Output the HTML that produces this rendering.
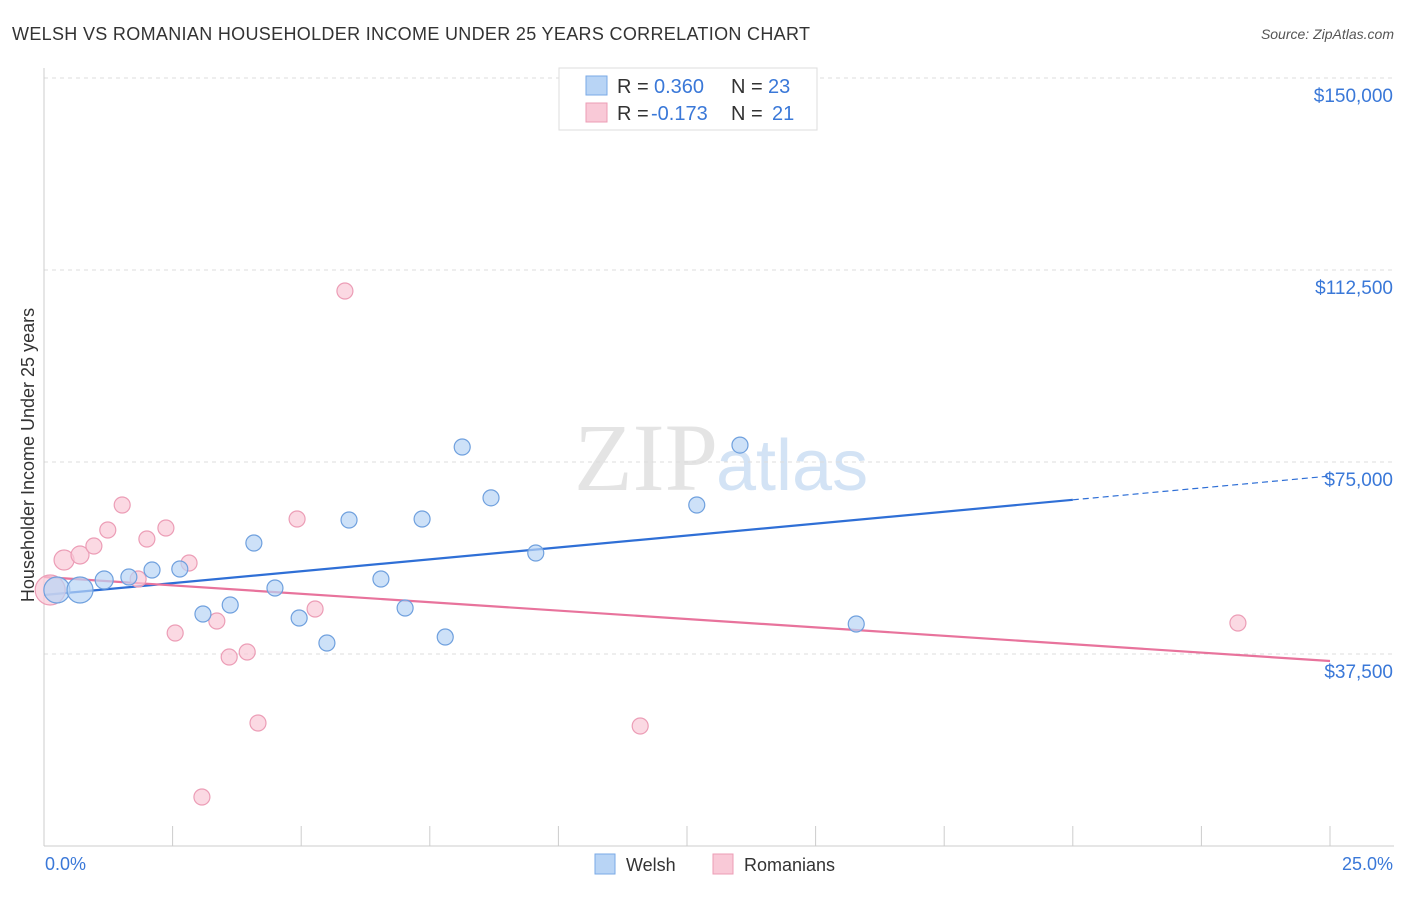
<!DOCTYPE html>
<html><head><meta charset="utf-8"><style>
body{margin:0;background:#fff;font-family:"Liberation Sans",sans-serif;}
</style></head><body>
<svg id="c" width="1406" height="892" xmlns="http://www.w3.org/2000/svg">
<text x="12" y="40" font-size="18" fill="#333" textLength="798">WELSH VS ROMANIAN HOUSEHOLDER INCOME UNDER 25 YEARS CORRELATION CHART</text>
<text x="1394" y="39" font-size="14" fill="#555" font-style="italic" text-anchor="end">Source: ZipAtlas.com</text>
<text x="718" y="490" font-size="96" fill="#e4e4e4" font-family="Liberation Serif,serif" text-anchor="end">ZIP</text>
<text x="716" y="490" font-size="72" fill="#d3e3f5">atlas</text>
<text transform="translate(34,455) rotate(-90)" font-size="18" fill="#333" text-anchor="middle">Householder Income Under 25 years</text>
<g id="grid"></g><g id="lines"></g><g id="pts"></g>
<rect x="559" y="68" width="258" height="62" fill="#fff" stroke="#ddd"/>
<rect x="586" y="76" width="21" height="19" fill="#b8d4f5" stroke="#7aaae6"/>
<rect x="586" y="103" width="21" height="19" fill="#f9c9d7" stroke="#ec9db6"/>
<g font-size="20">
<text x="617" y="93" fill="#333">R = </text><text x="654" y="93" fill="#3a78d8">0.360</text><text x="731" y="93" fill="#333">N = </text><text x="768" y="93" fill="#3a78d8">23</text>
<text x="617" y="120" fill="#333">R = </text><text x="651" y="120" fill="#3a78d8">-0.173</text><text x="731" y="120" fill="#333">N = </text><text x="772" y="120" fill="#3a78d8">21</text>
</g>
<rect x="595" y="854" width="20" height="20" fill="#b8d4f5" stroke="#7aaae6"/>
<text x="626" y="871" font-size="18" fill="#333">Welsh</text>
<rect x="713" y="854" width="20" height="20" fill="#f9c9d7" stroke="#ec9db6"/>
<text x="744" y="871" font-size="18" fill="#333">Romanians</text>
<text x="45" y="870" font-size="18" fill="#3a78d8">0.0%</text>
<text x="1393" y="870" font-size="18" fill="#3a78d8" text-anchor="end">25.0%</text>
</svg>
<script>
const yTicks=[150000,112500,75000,37500];
const yTickLabels=["$150,000","$112,500","$75,000","$37,500"];
const welshX=[0.25,0.70,1.17,1.65,2.10,2.64,3.09,3.62,4.08,4.49,4.96,5.50,5.93,6.55,7.02,7.35,7.80,8.13,8.69,9.56,12.69,13.53,15.79];
const welshY=[50000,50000,51950,52540,53900,54100,45310,47070,59180,50390,44530,39650,63670,52150,46480,63870,40820,77930,68000,57230,66600,78300,43360];
const welshR=[13,13,9,8,8,8,8,8,8,8,8,8,8,8,8,8,8,8,8,8,8,8,8];
const romX=[0.12,0.39,0.70,0.97,1.24,1.52,1.83,2.00,2.37,2.55,2.82,3.07,3.36,3.60,3.95,4.16,4.92,5.27,5.85,11.59,23.21];
const romY=[50000,55860,56840,58590,61720,66600,52150,59960,62110,41600,55270,9570,43940,36910,37890,24020,63870,46290,108400,23440,43550];
const romR=[15,10,9,8,8,8,8,8,8,8,8,8,8,8,8,8,8,8,8,8,8];
const welshLine=[49020,72260];
const romLine=[52540,36130];
const xs=v=>44+v/25*1286, ys=v=>846-v*192/37500;
const NS="http://www.w3.org/2000/svg";
function mk(p,t,a){const e=document.createElementNS(NS,t);for(const k in a)e.setAttribute(k,a[k]);p.appendChild(e);return e;}
const g=document.getElementById('grid');
yTicks.forEach((v,i)=>{
 const l=mk(g,'line',{x1:44,x2:1394,y1:ys(v),y2:ys(v),stroke:'#ddd','stroke-dasharray':'4,4'});
 
 
 const t=mk(g,'text',{x:1393,y:ys(v)+24,'font-size':19,fill:'#3a78d8','text-anchor':'end'});
 t.textContent=yTickLabels[i];
 
 
});
const ax=mk(g,'line',{x1:44,x2:1394,y1:846,y2:846,stroke:'#ccc'});


const ay=mk(g,'line',{x1:44,x2:44,y1:68,y2:846,stroke:'#ccc'});


for(let i=0;i<=10;i++){const t=mk(g,'line',{x1:xs(i*2.5),x2:xs(i*2.5),y1:826,y2:846,stroke:'#ccc'});
 
 }
const L=document.getElementById('lines');
const at=(a,x)=>a[0]+(a[1]-a[0])*x/25;
let e=mk(L,'line',{x1:xs(0),y1:ys(at(welshLine,0)),x2:xs(20),y2:ys(at(welshLine,20)),stroke:'#2f6fd6','stroke-width':2.2});


e=mk(L,'line',{x1:xs(20),y1:ys(at(welshLine,20)),x2:xs(25),y2:ys(at(welshLine,25)),stroke:'#2f6fd6','stroke-width':1.2,'stroke-dasharray':'6,4'});


e=mk(L,'line',{x1:xs(0),y1:ys(romLine[0]),x2:xs(25),y2:ys(romLine[1]),stroke:'#e8739c','stroke-width':2.2});


const P=document.getElementById('pts');
romX.forEach((x,i)=>{const c=mk(P,'circle',{cx:xs(x),cy:ys(romY[i]),r:romR[i],fill:'#f9c9d7','fill-opacity':0.7,stroke:'#ec9db6','stroke-width':1.2});
 
 });
welshX.forEach((x,i)=>{const c=mk(P,'circle',{cx:xs(x),cy:ys(welshY[i]),r:welshR[i],fill:'#b8d4f5','fill-opacity':0.7,stroke:'#6fa0de','stroke-width':1.2});
 
 });
</script>
</body></html>
